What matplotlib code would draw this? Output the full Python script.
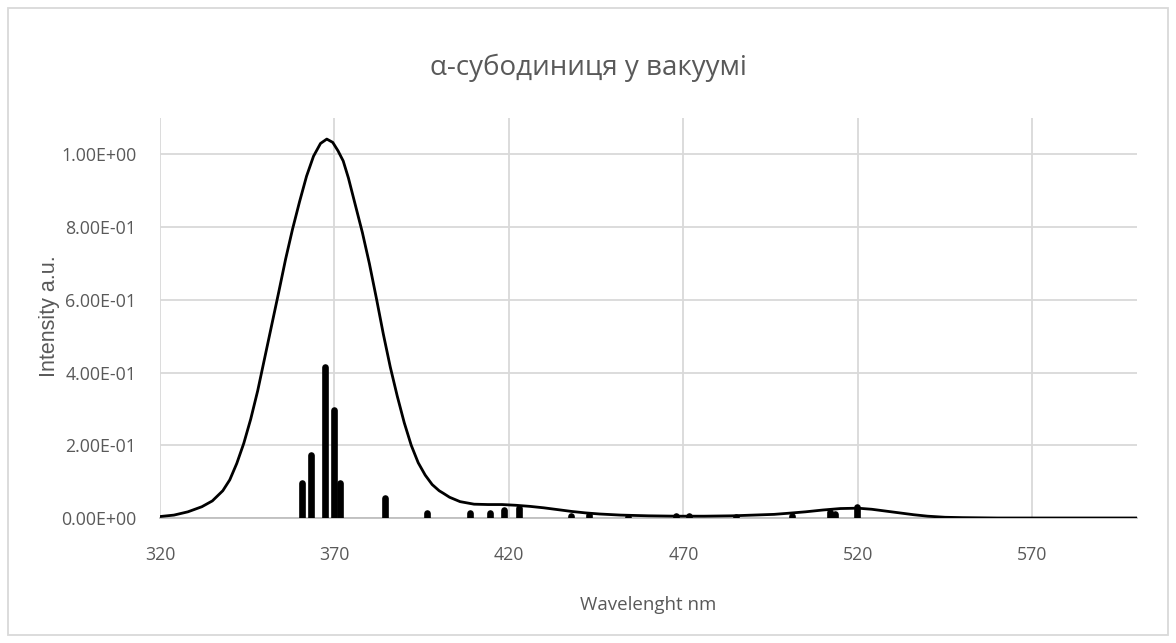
import matplotlib
matplotlib.use("Agg")
import matplotlib.pyplot as plt
from matplotlib.patches import Rectangle

# Envelope curve
env_x = [320, 324, 328, 332, 335, 338, 340, 342, 344, 346, 348, 350, 352, 354, 356,
         358, 360, 362, 364, 366, 367.8, 369.5, 371, 372.5, 374, 376, 378, 380, 382,
         384, 386, 388, 390, 392, 394, 396, 398, 400, 401.2, 403, 406, 410, 414, 418,
         422, 426, 430, 434, 438, 442, 446, 452, 460, 468, 476, 484, 490, 496, 500,
         505, 510, 515, 520, 524, 528, 532, 536, 540, 545, 550, 560, 580, 600]
env_y = [0.004, 0.008, 0.017, 0.031, 0.047, 0.075, 0.105, 0.150, 0.205, 0.272, 0.350,
         0.440, 0.530, 0.620, 0.712, 0.795, 0.870, 0.940, 0.995, 1.030, 1.042, 1.033,
         1.010, 0.982, 0.935, 0.860, 0.785, 0.700, 0.605, 0.506, 0.415, 0.335, 0.262,
         0.200, 0.152, 0.118, 0.092, 0.075, 0.068, 0.057, 0.045, 0.038, 0.037, 0.037,
         0.035, 0.032, 0.028, 0.023, 0.018, 0.014, 0.011, 0.008, 0.006, 0.005, 0.005,
         0.006, 0.008, 0.010, 0.013, 0.017, 0.022, 0.026, 0.027, 0.024, 0.019, 0.014,
         0.009, 0.005, 0.002, 0.001, 0.0, 0.0, 0.0]

# Stick spectrum (transitions)
stick_x = [360.8, 363.2, 367.4, 369.8, 371.6, 384.5, 396.6, 408.8, 414.5, 418.7, 422.8,
           437.7, 443.0, 454.2, 468.0, 471.5, 485.0, 501.0, 512.0, 513.5, 519.7]
stick_y = [0.097, 0.173, 0.416, 0.296, 0.097, 0.054, 0.015, 0.013, 0.015, 0.022, 0.027,
           0.006, 0.008, 0.004, 0.006, 0.005, 0.004, 0.006, 0.016, 0.012, 0.030]

x_ticks = [320, 370, 420, 470, 520, 570]
y_ticks = [0.0, 0.2, 0.4, 0.6, 0.8, 1.0]
y_ticklabels = ["0.00E+00", "2.00E-01", "4.00E-01", "6.00E-01", "8.00E-01", "1.00E+00"]

title = "α-субодиниця у вакуумі"
xlabel = "Wavelenght nm"
ylabel = "Intensity a.u."

grey = "#595959"
grid = "#d9d9d9"
narrow = ["Open Sans", "DejaVu Sans"]

fig = plt.figure(figsize=(11.76, 6.43), dpi=100)
fig.patch.set_facecolor("white")
ax = fig.add_axes([160/1176, 1-518/643, (1137-160)/1176, (518-118)/643])

ax.plot(env_x, env_y, color="black", lw=2.0, solid_joinstyle="round",
        solid_capstyle="round", zorder=3)
lc = ax.vlines(stick_x, 0, stick_y, colors="black", lw=4.8, zorder=4)
lc.set_capstyle("round")

ax.set_xlim(320, 600)
ax.set_ylim(0, 1.1)
ax.set_xticks(x_ticks)
ax.set_yticks(y_ticks)
ax.set_yticklabels(y_ticklabels)
ax.tick_params(length=0, labelcolor=grey, labelsize=12.8)
for lab in ax.get_xticklabels() + ax.get_yticklabels():
    lab.set_family(narrow)
ax.tick_params(axis="x", pad=20)
ax.tick_params(axis="y", pad=17)

ax.grid(True, color=grid, lw=1.3)
ax.set_axisbelow(True)
for s in ["top", "right", "left"]:
    ax.spines[s].set_visible(False)
ax.spines["bottom"].set_color("#bfbfbf")
ax.spines["bottom"].set_linewidth(1.3)

fig.text(588/1176, 1-68/643, title, ha="center", va="center", fontsize=20,
         color=grey, family=narrow)
fig.text(648/1176, 1-605/643, xlabel, ha="center", va="center", fontsize=13.5,
         color=grey, family=narrow)
fig.text(50/1176, 1-316/643, ylabel, ha="center", va="center", fontsize=15.5,
         color=grey, rotation=90, family=["Liberation Sans", "DejaVu Sans"])

fig.patches.append(Rectangle((8/1176, 8/643), (1168-8)/1176, (635-8)/643,
                             transform=fig.transFigure, fill=False,
                             edgecolor=grid, lw=1.3))

fig.savefig("out.png", dpi=100, facecolor="white")
